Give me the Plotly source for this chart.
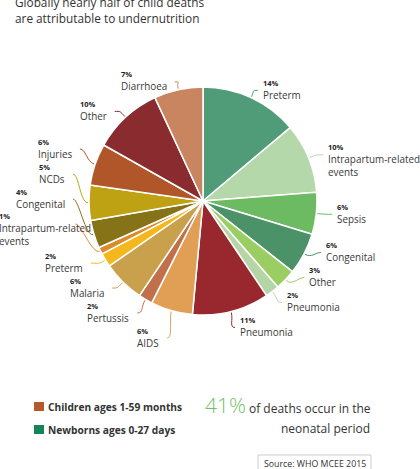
import math
import plotly.graph_objects as go

# ---------------- data ----------------
NEWBORN_CAUSES = ["Preterm", "Intrapartum-related<br>events", "Sepsis", "Congenital", "Other", "Pneumonia"]
NEWBORN_VALUES = [14, 10, 6, 6, 3, 2]
NEWBORN_COLORS = ["#519c78", "#b4d8aa", "#6cbb63", "#4b9269", "#9bce62", "#b6d5a7"]

CHILD_CAUSES = ["Pneumonia", "AIDS", "Pertussis", "Malaria", "Preterm", "Intrapartum-related<br>events",
                "Congenital", "NCDs", "Injuries", "Other", "Diarrhoea"]
CHILD_VALUES = [11, 6, 2, 6, 2, 1, 4, 5, 6, 10, 7]
CHILD_COLORS = ["#99282e", "#e09f55", "#c0714b", "#c9a04c", "#f4b81e", "#dc8b2b",
                "#877317", "#bea213", "#b05628", "#8a2b2f", "#c9855f"]

TITLE_LINES = ["Globally nearly half of child deaths", "are attributable to undernutrition"]
NEONATAL_SHARE = "41%"
SOURCE = "Source: WHO MCEE 2015"

labels = NEWBORN_CAUSES + CHILD_CAUSES
values = NEWBORN_VALUES + CHILD_VALUES
colors = NEWBORN_COLORS + CHILD_COLORS

# ---------------- geometry ----------------
W, H = 420, 469
CX, CY, R = 203, 201, 114
RX_LAB, RY_LAB = 130, 122
LINE_H = 12.5
NAME_SIZE = 9.9
PCT_SIZE = 7.5
FONT = "Open Sans"

fig = go.Figure()
fig.add_trace(go.Pie(
    labels=[f"{l} ({i})" for i, l in enumerate(labels)], values=values, sort=False,
    direction="clockwise", rotation=0,
    marker=dict(colors=colors, line=dict(color="white", width=1.5)),
    textinfo="none", hoverinfo="skip", showlegend=False,
    domain=dict(x=[(CX - R) / W, (CX + R) / W], y=[1 - (CY + R) / H, 1 - (CY - R) / H]),
))
# invisible pixel-space axes for labels / leader lines
fig.add_trace(go.Scatter(x=[0, W], y=[0, H], mode="markers", marker=dict(opacity=0),
                         hoverinfo="skip", showlegend=False))

total = sum(values)
cum = 0
items = []
for i, v in enumerate(values):
    mid = 2 * math.pi * (cum + v / 2) / total
    cum += v
    side = 1 if math.sin(mid) >= 0 else -1
    nlines = labels[i].count("<br>") + 1
    items.append(dict(i=i, ang=mid, side=side, n=nlines,
                      desired=CY - RY_LAB * math.cos(mid),
                      h=LINE_H * 2 + 14 * (nlines - 1)))


def distribute(its, ymin, ymax):
    its = sorted(its, key=lambda d: d["desired"])
    groups = []

    def place(g):
        offs, o = [], 0.0
        for it in g:
            offs.append(o)
            o += it["h"]
        start = sum(it["desired"] - of for it, of in zip(g, offs)) / len(g)
        if start + offs[-1] > ymax:
            start = ymax - offs[-1]
        if start < ymin:
            start = ymin
        for it, of in zip(g, offs):
            it["y"] = start + of

    for it in its:
        groups.append([it])
        place(groups[-1])
        while len(groups) > 1:
            prev, cur = groups[-2], groups[-1]
            if prev[-1]["y"] + prev[-1]["h"] > cur[0]["y"]:
                groups[-2:] = [prev + cur]
                place(groups[-1])
            else:
                break


distribute([d for d in items if d["side"] > 0], 70, 338)
distribute([d for d in items if d["side"] < 0], 70, 338)

annotations = []
shapes = []
lsp = NAME_SIZE * 1.3
for d in items:
    th, side = d["ang"], d["side"]
    dy = d["y"] - CY
    dx = RX_LAB * math.sqrt(max(1 - (dy / RY_LAB) ** 2, 0))
    dx = max(dx, abs(RX_LAB * math.sin(th)))
    ex, ey = CX + side * dx, d["y"]
    sx, sy = CX + (R + 1) * math.sin(th), CY - (R + 1) * math.cos(th)
    c1x, c1y = sx + 8 * math.sin(th), sy - 8 * math.cos(th)
    c2x, c2y = ex - side * 6, ey
    col = colors[d["i"]]
    shapes.append(dict(type="path", xref="x", yref="y",
                       path=f"M{sx:.1f},{sy:.1f} C{c1x:.1f},{c1y:.1f} {c2x:.1f},{c2y:.1f} {ex:.1f},{ey:.1f}",
                       line=dict(color=col, width=1)))
    name_lines = labels[d["i"]].split("<br>")
    widest = max(name_lines, key=len)
    xshift = 0
    if side > 0:
        ax, anc = ex + 3, "left"
    else:
        est_w = len(widest) * 0.55 * NAME_SIZE
        ax, anc = ex - 6, "right"
        if ax - est_w < 0:
            ax, anc, xshift = 0.2, "left", -3
    txt = (f"<span style='font-size:{PCT_SIZE}px;color:#222'><b>{values[d['i']]}%</b></span><br>"
           + labels[d["i"]])
    ymid = ey + (d["n"] - 1) * lsp / 2 - 0.5
    annotations.append(dict(x=ax, y=ymid, xref="x", yref="y", xanchor=anc, yanchor="middle",
                            text=txt, showarrow=False, align="left", xshift=xshift,
                            font=dict(family=FONT, size=NAME_SIZE, color="#3a3a3a")))

# title
annotations.append(dict(x=13, y=2, xref="x", yref="y", xanchor="left", yanchor="middle",
                        text=TITLE_LINES[0], showarrow=False,
                        font=dict(family=FONT, size=11.8, color="#333")))
annotations.append(dict(x=13, y=17.5, xref="x", yref="y", xanchor="left", yanchor="middle",
                        text=TITLE_LINES[1], showarrow=False,
                        font=dict(family=FONT, size=11.8, color="#333")))

# legend
for yy, col, txt in [(407, "#b5592b", "Children ages 1-59 months"), (430, "#14855a", "Newborns ages 0-27 days")]:
    shapes.append(dict(type="rect", xref="x", yref="y", x0=34, x1=44, y0=yy - 5, y1=yy + 4,
                       fillcolor=col, line=dict(width=0)))
    annotations.append(dict(x=46, y=yy, xref="x", yref="y", xanchor="left", yanchor="middle",
                            text=f"<b>{txt}</b>", showarrow=False,
                            font=dict(family=FONT, size=10.2, color="#333")))

annotations.append(dict(x=203, y=405, xref="x", yref="y", xanchor="left", yanchor="middle",
                        text=NEONATAL_SHARE, showarrow=False,
                        font=dict(family=FONT, size=21, color="#72bf6a", weight=300)))
annotations.append(dict(x=247, y=408, xref="x", yref="y", xanchor="left", yanchor="middle",
                        text="of deaths occur in the", showarrow=False,
                        font=dict(family=FONT, size=12, color="#333")))
annotations.append(dict(x=372, y=428, xref="x", yref="y", xanchor="right", yanchor="middle",
                        text="neonatal period", showarrow=False,
                        font=dict(family=FONT, size=12, color="#333")))

shapes.append(dict(type="rect", xref="x", yref="y", x0=258, x1=371, y0=455, y1=476,
                   fillcolor="white", line=dict(color="#cccccc", width=1)))
annotations.append(dict(x=314.5, y=464, xref="x", yref="y", xanchor="center", yanchor="middle",
                        text=SOURCE, showarrow=False,
                        font=dict(family=FONT, size=8.8, color="#333")))

fig.update_layout(
    width=W, height=H, margin=dict(l=0, r=0, t=0, b=0),
    paper_bgcolor="white", plot_bgcolor="rgba(0,0,0,0)",
    xaxis=dict(range=[0, W], visible=False, fixedrange=True),
    yaxis=dict(range=[H, 0], visible=False, fixedrange=True),
    annotations=annotations, shapes=shapes,
)
fig.write_html("out.html", config={"displayModeBar": False},
               post_script="document.body.style.margin='0';document.body.style.overflow='hidden';")
